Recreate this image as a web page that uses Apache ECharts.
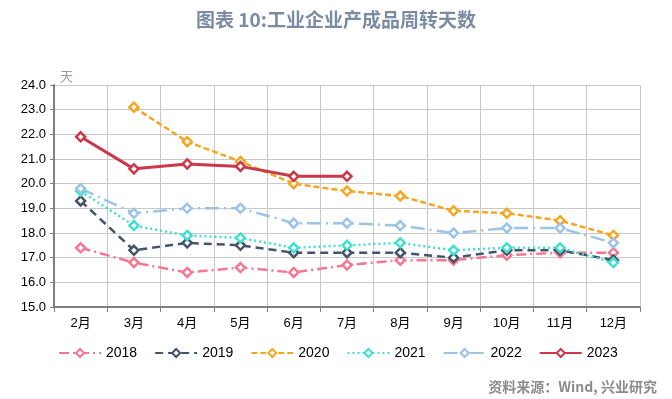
<!DOCTYPE html>
<html><head><meta charset="utf-8">
<script src="https://cdn.jsdelivr.net/npm/echarts@6/dist/echarts.min.js"></script>
<style>html,body{margin:0;padding:0;background:#fff}#c{width:672px;height:399px}</style>
</head><body><div id="c"></div>
<script>
const categories = ['2月','3月','4月','5月','6月','7月','8月','9月','10月','11月','12月'];
const s2018 = [17.4,16.8,16.4,16.6,16.4,16.7,16.9,16.9,17.1,17.2,17.2];
const s2019 = [19.3,17.3,17.6,17.5,17.2,17.2,17.2,17.0,17.3,17.3,16.9];
const s2020 = [null,23.1,21.7,20.9,20.0,19.7,19.5,18.9,18.8,18.5,17.9];
const s2021 = [19.7,18.3,17.9,17.8,17.4,17.5,17.6,17.3,17.4,17.4,16.8];
const s2022 = [19.8,18.8,19.0,19.0,18.4,18.4,18.3,18.0,18.2,18.2,17.6];
const s2023 = [21.9,20.6,20.8,20.7,20.3,20.3,null,null,null,null,null];
const seriesNames = ['2018','2019','2020','2021','2022','2023'];
const seriesData = [s2018,s2019,s2020,s2021,s2022,s2023];
const colors = ['#f7778f','#44546a','#f5a623','#40e0d0','#9dc3e6','#c9394a'];
const dashes = [[10,4,2,4],[8,5],[6,3],[2,3],[14,5,2,5],'solid'];
const widths = [2.5,2.5,2.5,2.5,2.5,3];
const font = '"Noto Sans CJK SC", "Noto Sans", sans-serif';
const numFont = '"Liberation Sans", "Noto Sans CJK SC", sans-serif';
const chart = echarts.init(document.getElementById('c'));
chart.setOption({
  animation:false,
  title:[{text:'图表 10:工业企业产成品周转天数',left:'center',top:5,textStyle:{color:'#7a8ba3',fontSize:19,fontWeight:'bold',fontFamily:font}},
         {text:'资料来源：Wind, 兴业研究',right:10,top:375,textStyle:{color:'#8c8c8c',fontSize:14,fontWeight:'bold',fontFamily:font}}],
  grid:{left:54,right:32,top:85,bottom:92},
  legend:{left:53,top:341,itemWidth:42,itemHeight:10,itemGap:17,
    textStyle:{fontSize:14,color:'#000',fontFamily:numFont},
    data:seriesNames},
  xAxis:{type:'category',data:categories,boundaryGap:true,
    axisLine:{lineStyle:{color:'#7f7f7f',width:2}},
    axisTick:{show:true,lineStyle:{color:'#7f7f7f'},length:5},
    axisLabel:{color:'#000',fontSize:13,fontFamily:numFont,margin:10},
    splitLine:{show:true,lineStyle:{color:'#c8c8c8',width:1}}},
  yAxis:{type:'value',min:15,max:24,interval:1,name:'天',nameLocation:'end',nameGap:2,
    nameTextStyle:{color:'#999',fontSize:13,fontFamily:font,align:'left',padding:[0,0,0,6]},
    axisLine:{show:true,lineStyle:{color:'#7f7f7f',width:2}},
    axisTick:{show:true,lineStyle:{color:'#7f7f7f'},length:4},
    axisLabel:{color:'#000',fontSize:13,fontFamily:numFont,formatter:v=>v.toFixed(1),margin:8},
    splitLine:{show:true,lineStyle:{color:'#c8c8c8',width:1}}},
  series: seriesNames.map((n,i)=>({
    name:n,type:'line',data:seriesData[i],symbol:'diamond',symbolSize:9,
    connectNulls:false,
    itemStyle:{color:'#fff',borderColor:colors[i],borderWidth:2.5},
    lineStyle:{color:colors[i],width:widths[i],type:dashes[i]},
    z: i===5?5:2
  }))
});
</script></body></html>
